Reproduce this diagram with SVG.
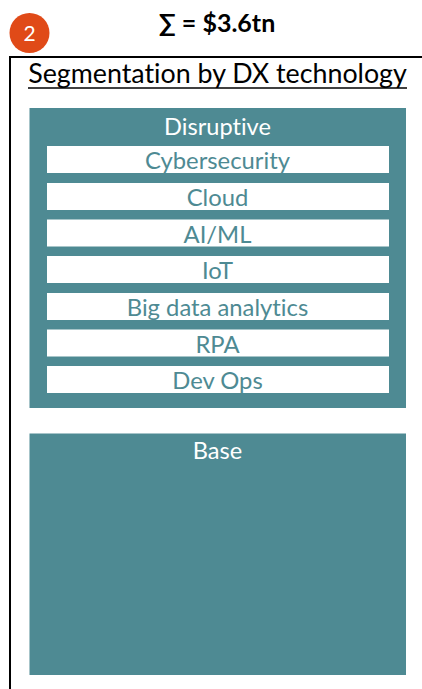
<svg xmlns="http://www.w3.org/2000/svg" width="422" height="689" viewBox="0 0 422 689">
  <style>
    .txt { font-family: "Lato", "Liberation Sans", sans-serif; font-variant-ligatures: none; }
    .panel { fill: #4E8A93; }
    .row { fill: #FFFFFF; }
    .rowlabel { fill: #4E8A93; font-size: 23.8px; text-anchor: middle; }
    .head { fill: #FFFFFF; font-size: 23.6px; text-anchor: middle; }
  </style>
  <rect width="422" height="689" fill="#FFFFFF"/>

  <!-- total -->
  <g id="total">
    <text class="txt" x="217" y="32" font-size="25" font-weight="bold" text-anchor="middle" fill="#000">∑ = $3.6tn</text>
  </g>

  <!-- step badge -->
  <g id="badge">
    <circle cx="29.5" cy="33" r="20" fill="#E04A18"/>
    <text class="txt" x="29.5" y="41" font-size="21" text-anchor="middle" fill="#FFFFFF">2</text>
  </g>

  <!-- frame -->
  <g id="frame">
    <path d="M10 689 V57 H422" fill="none" stroke="#000" stroke-width="2"/>
    <text class="txt" x="217.5" y="83" font-size="26.8" text-anchor="middle" fill="#000">Segmentation by DX technology</text>
    <line x1="28" y1="88" x2="407" y2="88" stroke="#000" stroke-width="1.3"/>
  </g>

  <!-- disruptive segment -->
  <g id="disruptive">
    <rect class="panel" x="29.5" y="108" width="376.5" height="300"/>
    <text class="txt head" x="217.5" y="135">Disruptive</text>
  </g>
  <g id="cybersecurity">
    <rect class="row" x="47" y="146" width="342" height="27"/>
    <text class="txt rowlabel" x="217.5" y="169">Cybersecurity</text>
  </g>
  <g id="cloud">
    <rect class="row" x="47" y="183" width="342" height="27"/>
    <text class="txt rowlabel" x="217.5" y="206">Cloud</text>
  </g>
  <g id="aiml">
    <rect class="row" x="47" y="219.5" width="342" height="27"/>
    <text class="txt rowlabel" x="217.5" y="242.5">AI/ML</text>
  </g>
  <g id="iot">
    <rect class="row" x="47" y="256" width="342" height="27"/>
    <text class="txt rowlabel" x="217.5" y="279">IoT</text>
  </g>
  <g id="bigdata">
    <rect class="row" x="47" y="293" width="342" height="27"/>
    <text class="txt rowlabel" x="217.5" y="316">Big data analytics</text>
  </g>
  <g id="rpa">
    <rect class="row" x="47" y="329.5" width="342" height="27"/>
    <text class="txt rowlabel" x="217.5" y="352.5">RPA</text>
  </g>
  <g id="devops">
    <rect class="row" x="47" y="366" width="342" height="27"/>
    <text class="txt rowlabel" x="217.5" y="389">Dev Ops</text>
  </g>

  <!-- base segment -->
  <g id="base">
    <rect class="panel" x="29.5" y="433.5" width="376.5" height="241.5"/>
    <text class="txt head" x="217.5" y="459">Base</text>
  </g>

  <g id="connectors"></g>
</svg>
